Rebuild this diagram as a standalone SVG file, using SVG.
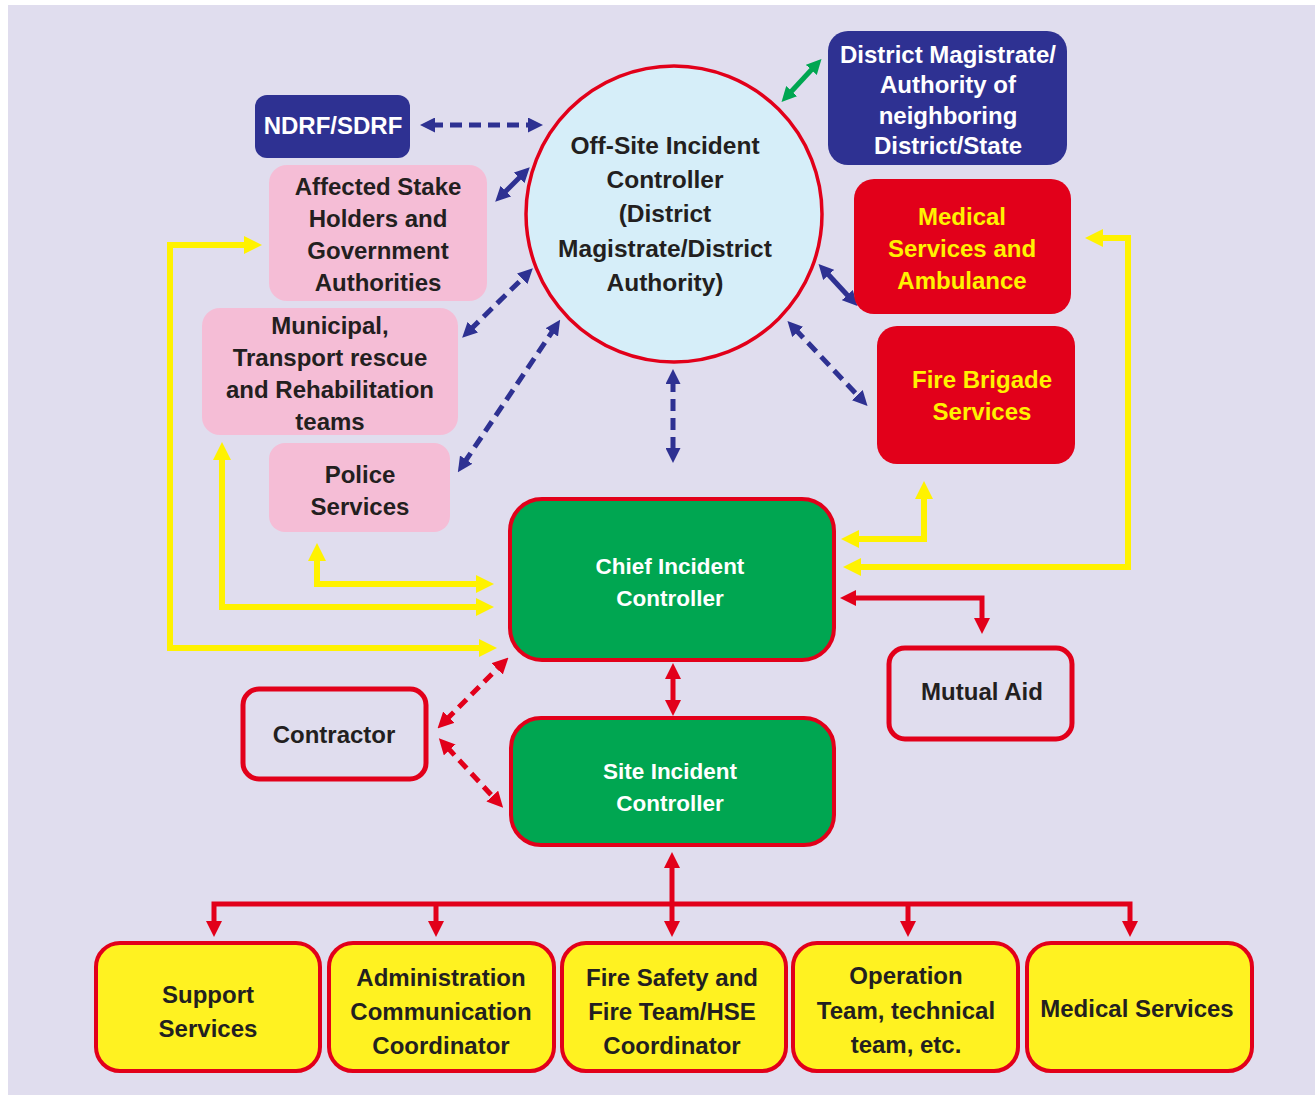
<svg xmlns="http://www.w3.org/2000/svg" width="1315" height="1095" viewBox="0 0 1315 1095">
<style>
text{font-family:"Liberation Sans",Arial,sans-serif;font-weight:bold;text-anchor:middle;font-size:24px}
.dk{fill:#231F20}
.wh{fill:#FFFFFF}
.yl{fill:#FFF200}
.pink{fill:#F5BDD6}
.navy{fill:#2E3192}
.redbox{fill:#E2001A}
.green{fill:#00A651;stroke:#E2001A;stroke-width:4}
.outl{fill:#E0DDEE;stroke:#E2001A;stroke-width:5}
.ybox{fill:#FFF221;stroke:#E2001A;stroke-width:4}
.bl{stroke:#2E3192;stroke-width:5;fill:none}
.dash{stroke-dasharray:12 7}
.gr{stroke:#00A651;stroke-width:5;fill:none}
.ye{stroke:#FFF200;stroke-width:6;fill:none}
.rd{stroke:#E2001A;stroke-width:5;fill:none}
.rdash{stroke-dasharray:11 7}
</style>
<defs>
<marker id="mb" viewBox="0 0 15 15" markerWidth="15" markerHeight="15" refX="4" refY="7.5" orient="auto-start-reverse" markerUnits="userSpaceOnUse"><path d="M0,0 L15,7.5 L0,15 Z" fill="#2E3192"/></marker>
<marker id="mg" viewBox="0 0 15 15" markerWidth="15" markerHeight="15" refX="4" refY="7.5" orient="auto-start-reverse" markerUnits="userSpaceOnUse"><path d="M0,0 L15,7.5 L0,15 Z" fill="#00A651"/></marker>
<marker id="my" viewBox="0 0 18 18" markerWidth="18" markerHeight="18" refX="4" refY="9" orient="auto-start-reverse" markerUnits="userSpaceOnUse"><path d="M0,0 L18,9 L0,18 Z" fill="#FFF200"/></marker>
<marker id="mr" viewBox="0 0 16 16" markerWidth="16" markerHeight="16" refX="4" refY="8" orient="auto-start-reverse" markerUnits="userSpaceOnUse"><path d="M0,0 L16,8 L0,16 Z" fill="#E2001A"/></marker>
</defs>
<rect x="0" y="0" width="1315" height="1095" fill="#FFFFFF"/>
<rect x="8" y="5" width="1307" height="1090" fill="#E0DDEE"/>

<g id="connectors">
  <line class="bl dash" x1="431" y1="125" x2="532" y2="125" marker-start="url(#mb)" marker-end="url(#mb)"/>
  <line class="bl" x1="503" y1="194" x2="522" y2="175" marker-start="url(#mb)" marker-end="url(#mb)"/>
  <line class="bl dash" x1="470" y1="330" x2="525" y2="276" marker-start="url(#mb)" marker-end="url(#mb)"/>
  <line class="bl dash" x1="464" y1="463" x2="554" y2="329" marker-start="url(#mb)" marker-end="url(#mb)"/>
  <line class="bl dash" x1="673" y1="380" x2="673" y2="452" marker-start="url(#mb)" marker-end="url(#mb)"/>
  <line class="bl" x1="826" y1="272" x2="850" y2="298" marker-start="url(#mb)" marker-end="url(#mb)"/>
  <line class="bl dash" x1="795" y1="329" x2="860" y2="398" marker-start="url(#mb)" marker-end="url(#mb)"/>
  <line class="gr" x1="789" y1="94" x2="814" y2="67" marker-start="url(#mg)" marker-end="url(#mg)"/>

  <path class="ye" d="M483,648 H170 V245 H248" marker-start="url(#my)" marker-end="url(#my)"/>
  <path class="ye" d="M222,456 V607 H480" marker-start="url(#my)" marker-end="url(#my)"/>
  <path class="ye" d="M317,557 V584 H480" marker-start="url(#my)" marker-end="url(#my)"/>
  <path class="ye" d="M924,495 V539 H855" marker-start="url(#my)" marker-end="url(#my)"/>
  <path class="ye" d="M1099,238 H1128 V567 H857" marker-start="url(#my)" marker-end="url(#my)"/>

  <path class="rd" d="M852,598 H982 V622" marker-start="url(#mr)" marker-end="url(#mr)"/>
  <line class="rd" x1="673" y1="675" x2="673" y2="704" marker-start="url(#mr)" marker-end="url(#mr)"/>
  <line class="rd rdash" x1="446" y1="720" x2="500" y2="666" marker-start="url(#mr)" marker-end="url(#mr)"/>
  <line class="rd rdash" x1="447" y1="747" x2="495" y2="799" marker-start="url(#mr)" marker-end="url(#mr)"/>
  <line class="rd" x1="672" y1="864" x2="672" y2="925" marker-start="url(#mr)" marker-end="url(#mr)"/>
  <path class="rd" d="M214,925 V904 H1130 V925" marker-start="url(#mr)" marker-end="url(#mr)"/>
  <line class="rd" x1="436" y1="904" x2="436" y2="925" marker-end="url(#mr)"/>
  <line class="rd" x1="908" y1="904" x2="908" y2="925" marker-end="url(#mr)"/>
</g>

<g id="offsite">
  <circle cx="674" cy="214" r="148" fill="#D6EEF9" stroke="#E2001A" stroke-width="3.5"/>
  <text class="dk" x="665" y="154" style="font-size:24.5px">Off-Site Incident</text>
  <text class="dk" x="665" y="188" style="font-size:24.5px">Controller</text>
  <text class="dk" x="665" y="222" style="font-size:24.5px">(District</text>
  <text class="dk" x="665" y="257" style="font-size:24.5px">Magistrate/District</text>
  <text class="dk" x="665" y="291" style="font-size:24.5px">Authority)</text>
</g>

<g id="ndrf">
  <rect class="navy" x="255" y="95" width="155" height="63" rx="12"/>
  <text class="wh" x="333" y="134">NDRF/SDRF</text>
</g>

<g id="district">
  <rect class="navy" x="828" y="31" width="239" height="134" rx="20"/>
  <text class="wh" x="948" y="63">District Magistrate/</text>
  <text class="wh" x="948" y="93">Authority of</text>
  <text class="wh" x="948" y="124">neighboring</text>
  <text class="wh" x="948" y="154">District/State</text>
</g>

<g id="affected">
  <rect class="pink" x="269" y="165" width="218" height="136" rx="18"/>
  <text class="dk" x="378" y="195">Affected Stake</text>
  <text class="dk" x="378" y="227">Holders and</text>
  <text class="dk" x="378" y="259">Government</text>
  <text class="dk" x="378" y="291">Authorities</text>
</g>

<g id="municipal">
  <rect class="pink" x="202" y="308" width="256" height="127" rx="18"/>
  <text class="dk" x="330" y="334">Municipal,</text>
  <text class="dk" x="330" y="366">Transport rescue</text>
  <text class="dk" x="330" y="398">and Rehabilitation</text>
  <text class="dk" x="330" y="430">teams</text>
</g>

<g id="police">
  <rect class="pink" x="269" y="443" width="181" height="89" rx="16"/>
  <text class="dk" x="360" y="483">Police</text>
  <text class="dk" x="360" y="515">Services</text>
</g>

<g id="medical-ambulance">
  <rect class="redbox" x="854" y="179" width="217" height="135" rx="20"/>
  <text class="yl" x="962" y="225">Medical</text>
  <text class="yl" x="962" y="257">Services and</text>
  <text class="yl" x="962" y="289">Ambulance</text>
</g>

<g id="fire-brigade">
  <rect class="redbox" x="877" y="326" width="198" height="138" rx="20"/>
  <text class="yl" x="982" y="388">Fire Brigade</text>
  <text class="yl" x="982" y="420">Services</text>
</g>

<g id="chief">
  <rect class="green" x="510" y="499" width="324" height="161" rx="32"/>
  <text class="wh" x="670" y="574" style="font-size:22.5px">Chief Incident</text>
  <text class="wh" x="670" y="606" style="font-size:22.5px">Controller</text>
</g>

<g id="mutual-aid">
  <rect class="outl" x="889" y="648" width="183" height="91" rx="16"/>
  <text class="dk" x="982" y="700">Mutual Aid</text>
</g>

<g id="contractor">
  <rect class="outl" x="243" y="689" width="183" height="90" rx="16"/>
  <text class="dk" x="334" y="743">Contractor</text>
</g>

<g id="site">
  <rect class="green" x="511" y="718" width="323" height="127" rx="30"/>
  <text class="wh" x="670" y="779" style="font-size:22.5px">Site Incident</text>
  <text class="wh" x="670" y="811" style="font-size:22.5px">Controller</text>
</g>

<g id="support">
  <rect class="ybox" x="96" y="943" width="224" height="128" rx="24"/>
  <text class="dk" x="208" y="1003">Support</text>
  <text class="dk" x="208" y="1037">Services</text>
</g>

<g id="admin">
  <rect class="ybox" x="329" y="943" width="225" height="128" rx="24"/>
  <text class="dk" x="441" y="986">Administration</text>
  <text class="dk" x="441" y="1020">Communication</text>
  <text class="dk" x="441" y="1054">Coordinator</text>
</g>

<g id="fire-safety">
  <rect class="ybox" x="562" y="943" width="224" height="128" rx="24"/>
  <text class="dk" x="672" y="986">Fire Safety and</text>
  <text class="dk" x="672" y="1020">Fire Team/HSE</text>
  <text class="dk" x="672" y="1054">Coordinator</text>
</g>

<g id="operation">
  <rect class="ybox" x="793" y="943" width="225" height="128" rx="24"/>
  <text class="dk" x="906" y="984">Operation</text>
  <text class="dk" x="906" y="1019">Team, technical</text>
  <text class="dk" x="906" y="1053">team, etc.</text>
</g>

<g id="medical-services">
  <rect class="ybox" x="1027" y="943" width="225" height="128" rx="24"/>
  <text class="dk" x="1137" y="1017">Medical Services</text>
</g>
</svg>
